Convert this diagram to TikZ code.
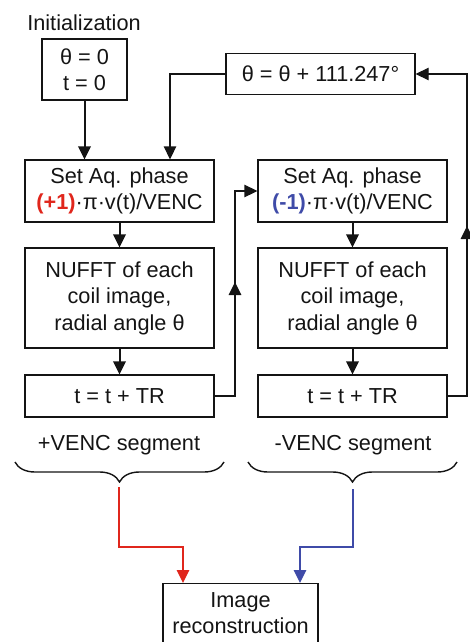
\documentclass[tikz,border=0pt]{standalone}
\usepackage{fontspec}
\setmainfont{Liberation Sans}
\usetikzlibrary{arrows.meta,decorations.pathreplacing,calc}
\definecolor{plusred}{RGB}{224,38,28}
\definecolor{minusblue}{RGB}{63,75,168}
\definecolor{ink}{RGB}{20,20,20}

\begin{document}
\begin{tikzpicture}[x=1pt,y=-1pt,
  every node/.style={font=\fontsize{21.7}{26.5}\selectfont, align=center, inner sep=0pt, text=ink},
  box/.style={draw=ink, line width=1.3pt, minimum width=189pt},
  tip/.style={-{Triangle[width=12.5pt,length=13pt]}},
  flow/.style={draw=ink, line width=2pt, tip},
  back/.style={draw=ink, line width=1.3pt},
  brc/.style={draw=ink, line width=1.4pt, decorate, decoration={brace, amplitude=20pt}},
  ]
\useasboundingbox (0,0) rectangle (469,642);

% initialisation
\node (initlbl) at (84,22.5) {Initialization};
\node[box, minimum width=85pt, minimum height=61pt] (init) at (84.5,69.5) {θ = 0\\t = 0};

% angle update
\node[box, minimum height=41pt] (upd) at (320.5,74) {θ = θ + 111.247°};

% +VENC column
\node[box, minimum height=62pt] (setL) at (119.5,191)
  {Set Aq. phase\\{\bfseries\color{plusred}(+1)}·π·v(t)/VENC};
\node[box, minimum height=100pt] (fftL) at (119.5,298)
  {NUFFT of each\\coil image,\\radial angle θ};
\node[box, minimum height=42pt] (tL) at (119.5,396) {t = t + TR};

% -VENC column
\node[box, minimum height=62pt] (setR) at (352.5,191)
  {Set Aq. phase\\{\bfseries\color{minusblue}(-1)}·π·v(t)/VENC};
\node[box, minimum height=100pt] (fftR) at (352.5,298)
  {NUFFT of each\\coil image,\\radial angle θ};
\node[box, minimum height=42pt] (tR) at (352.5,396) {t = t + TR};

% main flow
\draw[flow] (init.south) -- (init.south |- setL.north);
\draw[flow] (setL.south) -- (fftL.north);
\draw[flow] (fftL.south) -- (tL.north);
\draw[flow] (setR.south) -- (fftR.north);
\draw[flow] (fftR.south) -- (tR.north);

% feedback loops
\path (setL.north) ++(50.5,0) coordinate (dropL);
\draw[back, tip] (upd.west) -| (dropL);

\coordinate (jL) at (235,396);
\coordinate (mL) at (235,282);
\draw[back, tip] (tL.east) -- (jL) |- (setR.west);
\draw[back, tip] (jL) -- (mL);

\coordinate (jR) at (467,396);
\coordinate (mR) at (467,226);
\draw[back, tip] (tR.east) -- (jR) |- (upd.east);
\draw[back, tip] (jR) -- (mR);

% segments
\node (segL) at (119,445) {+VENC segment};
\node (segR) at (353,445) {-VENC segment};
\draw[brc] (224,462) -- (15,462);
\draw[brc] (457,462) -- (248,462);

% reconstruction
\node[box, minimum width=155pt, minimum height=90pt, anchor=north] (recon) at (240.5,583) {};
\node (recontxt) at (240.5,613) {Image\\reconstruction};

\coordinate (rs) at (119,487);
\coordinate (rb) at (183,547);
\draw[plusred, line width=1.3pt, -{Triangle[width=12.5pt,length=13pt]}] (rs) |- (rb) -- (rb |- recon.north);

\coordinate (bs) at (353,489);
\coordinate (bb) at (300,547);
\draw[minusblue, line width=1.3pt, -{Triangle[width=12.5pt,length=13pt]}] (bs) |- (bb) -- (bb |- recon.north);
\end{tikzpicture}
\end{document}
